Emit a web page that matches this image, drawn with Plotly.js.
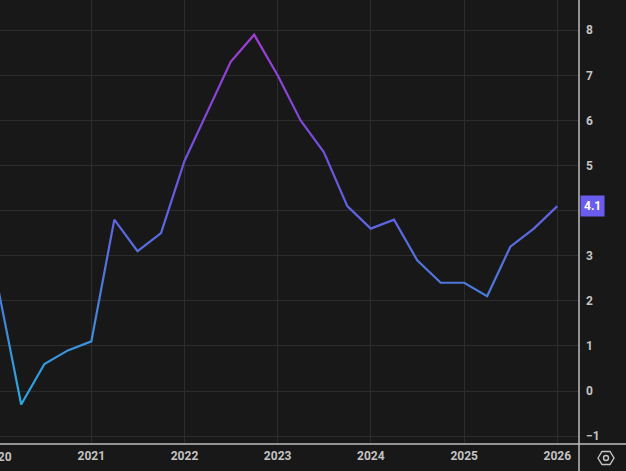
<!DOCTYPE html>
<html>
<head>
<meta charset="utf-8">
<script src="https://cdn.plot.ly/plotly-3.0.1.min.js"></script>
<style>
html,body{margin:0;padding:0;background:#181818;}
#chart{width:626px;height:471px;}
</style>
</head>
<body>
<div id="chart"></div>
<script>
// Quarterly values
const dates = [
  "2020-01-01","2020-04-01","2020-07-01","2020-10-01",
  "2021-01-01","2021-04-01","2021-07-01","2021-10-01",
  "2022-01-01","2022-04-01","2022-07-01","2022-10-01",
  "2023-01-01","2023-04-01","2023-07-01","2023-10-01",
  "2024-01-01","2024-04-01","2024-07-01","2024-10-01",
  "2025-01-01","2025-04-01","2025-07-01","2025-10-01",
  "2026-01-01"
];
const values = [
  2.3, -0.3, 0.6, 0.9,
  1.1, 3.8, 3.1, 3.5,
  5.1, 6.2, 7.3, 7.9,
  7.0, 6.0, 5.3, 4.1,
  3.6, 3.8, 2.9, 2.4,
  2.4, 2.1, 3.2, 3.6,
  4.1
];
const yearTicks = ["2020-01-01","2021-01-01","2022-01-01","2023-01-01","2024-01-01","2025-01-01","2026-01-01"];
const yearLabels = ["2020","2021","2022","2023","2024","2025","2026"];
const yTicks = [-1,0,1,2,3,4,5,6,7,8];
const lastLabel = "4.1";

// colour stops by value for the gradient line
const gradStops = [
  [8.0, "#a33cd8"],
  [6.0, "#7e47d8"],
  [5.0, "#6c55dd"],
  [4.1, "#6160e2"],
  [3.0, "#5570de"],
  [2.1, "#4a7cda"],
  [1.0, "#3a92dc"],
  [-0.3, "#2aa8e0"]
];

const xRange = ["2020-01-09", "2026-03-27"];
const tickFont = {size: 12, color: "#c4c4c4", family: "Roboto, sans-serif", weight: "bold"};
const lastVal = values[values.length - 1];

// paper position of the first (partly hidden) year tick
const t0 = Date.parse(xRange[0]), t1 = Date.parse(xRange[1]);
const firstYearPaperX = (Date.parse(yearTicks[0]) - t0) / (t1 - t0);

const trace = {
  x: dates, y: values, type: "scatter", mode: "lines",
  line: {color: "#6160e2", width: 2.2},
  hoverinfo: "skip", showlegend: false
};

const layout = {
  width: 626, height: 471,
  margin: {l: 0, r: 47, t: 0, b: 27, pad: 0},
  paper_bgcolor: "#181818",
  plot_bgcolor: "#181818",
  font: {family: "Roboto, 'Open Sans', sans-serif", color: "#c4c4c4", size: 12},
  showlegend: false,
  xaxis: {
    type: "date",
    range: xRange,
    tickmode: "array", tickvals: yearTicks, ticktext: yearLabels,
    showgrid: true, gridcolor: "#2c2c2c", gridwidth: 1,
    zeroline: false, showline: false, ticks: "",
    tickfont: tickFont,
    ticklabelstandoff: 3,
    fixedrange: true
  },
  yaxis: {
    side: "right",
    range: [-1.175, 8.67],
    tickmode: "array", tickvals: yTicks,
    // the tick label under the last-value badge is hidden by it
    ticktext: yTicks.map(v => Math.abs(v - lastVal) < 0.5 ? "" : (v < 0 ? "\u2212" + Math.abs(v) : String(v))),
    showgrid: true, gridcolor: "#2c2c2c", gridwidth: 1,
    zeroline: false, showline: false, ticks: "",
    tickfont: tickFont,
    ticklabelstandoff: 6,
    fixedrange: true
  },
  shapes: [
    // bottom axis line across full width
    {type: "line", xref: "paper", yref: "paper", x0: 0, x1: 626/579, y0: 0, y1: 0,
     line: {color: "#bdbdbd", width: 1.5}, layer: "above"},
    // right axis line full height
    {type: "line", xref: "paper", yref: "paper", x0: 1, x1: 1, y0: -27/444, y1: 1,
     line: {color: "#bdbdbd", width: 1.5}, layer: "above"},
    // settings icon: hexagon
    {type: "path", xref: "paper", yref: "paper", xsizemode: "pixel", ysizemode: "pixel",
     xanchor: 1, yanchor: 0,
     path: "M 19 -14 L 23 -7.5 L 31 -7.5 L 35 -14 L 31 -20.5 L 23 -20.5 Z",
     line: {color: "#c4c4c4", width: 1.4}, fillcolor: "rgba(0,0,0,0)"},
    {type: "circle", xref: "paper", yref: "paper", xsizemode: "pixel", ysizemode: "pixel",
     xanchor: 1, yanchor: 0, x0: 24.5, x1: 29.5, y0: -16.5, y1: -11.5,
     line: {color: "#c4c4c4", width: 1.4}, fillcolor: "rgba(0,0,0,0)"}
  ],
  annotations: [
    {xref: "paper", yref: "y", x: 1, y: lastVal,
     xanchor: "left", yanchor: "middle", xshift: 1,
     text: "<b>" + lastLabel + "</b>", showarrow: false,
     bgcolor: "#6b5cf0", borderpad: 3,
     font: {color: "#ffffff", size: 12, family: "Roboto, sans-serif"}},
    // year label partly cut off at the left edge
    {xref: "paper", yref: "paper", x: firstYearPaperX, y: 0,
     xanchor: "center", yanchor: "top", yshift: -4,
     text: "<b>" + yearLabels[0] + "</b>", showarrow: false,
     font: tickFont}
  ]
};

Plotly.newPlot("chart", [trace], layout, {displayModeBar: false, staticPlot: true}).then(gd => {
  // apply a value-based vertical gradient to the line
  const ya = gd._fullLayout.yaxis;
  const svg = gd.querySelector("svg.main-svg");
  const ns = "http://www.w3.org/2000/svg";
  let defs = svg.querySelector("defs");
  if (!defs) { defs = document.createElementNS(ns, "defs"); svg.insertBefore(defs, svg.firstChild); }
  const grad = document.createElementNS(ns, "linearGradient");
  grad.setAttribute("id", "lineGrad");
  grad.setAttribute("gradientUnits", "userSpaceOnUse");
  grad.setAttribute("x1", "0"); grad.setAttribute("x2", "0");
  const yTop = ya.l2p(gradStops[0][0]);
  const yBot = ya.l2p(gradStops[gradStops.length - 1][0]);
  grad.setAttribute("y1", String(yTop));
  grad.setAttribute("y2", String(yBot));
  gradStops.forEach(([v, c]) => {
    const st = document.createElementNS(ns, "stop");
    st.setAttribute("offset", String((ya.l2p(v) - yTop) / (yBot - yTop)));
    st.setAttribute("stop-color", c);
    grad.appendChild(st);
  });
  defs.appendChild(grad);
  gd.querySelectorAll(".scatterlayer .js-line").forEach(p => {
    p.style.stroke = "url(#lineGrad)";
  });
});
</script>
</body>
</html>
